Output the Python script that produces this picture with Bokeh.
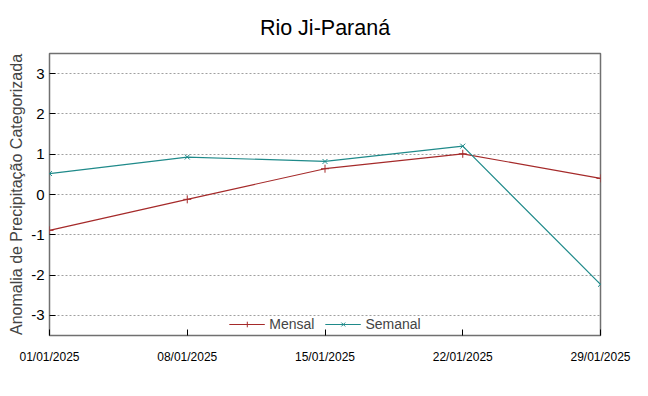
from datetime import datetime
from bokeh.plotting import figure
from bokeh.models import FixedTicker, DatetimeTickFormatter, Legend, LegendItem, Range1d
from bokeh.embed import file_html
from bokeh.resources import INLINE

dates = ["01/01/2025", "08/01/2025", "15/01/2025", "22/01/2025", "29/01/2025"]
mensal = [-0.89, -0.12, 0.64, 1.01, 0.40]
semanal = [0.52, 0.93, 0.82, 1.20, -2.23]
y_ticks = [-3, -2, -1, 0, 1, 2, 3]
y_tick_labels = ["-3", "-2", "-1", "0", "1", "2", "3"]

x = [datetime.strptime(d, "%d/%m/%Y") for d in dates]

red = "#a52a2a"
teal = "#1f8a8a"
font = "Liberation Sans"

p = figure(frame_width=551, frame_height=282, output_backend="svg", toolbar_location=None,
           x_axis_type="datetime", title="Rio Ji-Paraná",
           min_border_left=49, min_border_right=40, min_border_top=53, min_border_bottom=0)
p.x_range = Range1d(x[0], x[-1])
p.y_range = Range1d(-3.5, 3.5)

p.title.align = "center"
p.title.text_font = font
p.title.text_font_size = "21.5px"
p.title.text_font_style = "normal"
p.title.text_color = "#000000"
p.title.vertical_align = "top"
p.title.standoff = 24

l1 = p.line(x, mensal, line_color=red, line_width=1.2)
m1 = p.scatter(x, mensal, marker="cross", size=8, line_color=red, line_width=1)
l2 = p.line(x, semanal, line_color=teal, line_width=1.2)
m2 = p.scatter(x, semanal, marker="x", size=7, line_color=teal, line_width=1)

ms = [d.timestamp() * 1000 for d in x]
p.xaxis.ticker = FixedTicker(ticks=ms)
p.xaxis.formatter = DatetimeTickFormatter(days="%d/%m/%Y", months="%d/%m/%Y", hours="%d/%m/%Y")
p.yaxis.ticker = FixedTicker(ticks=y_ticks)
p.yaxis.major_label_overrides = {t: s for t, s in zip(y_ticks, y_tick_labels)}

for ax in (p.xaxis[0], p.yaxis[0]):
    ax.major_tick_in = 6
    ax.major_tick_out = 0
    ax.minor_tick_in = 0
    ax.minor_tick_out = 0
    ax.axis_line_color = None
    ax.major_tick_line_color = "#000000"
    ax.major_label_text_font = font
    ax.major_label_text_color = "#000000"

p.xaxis.major_label_text_font_size = "12px"
p.xaxis.major_label_standoff = 14
p.xaxis.axis_label = None
p.yaxis.major_label_text_font_size = "15px"
p.yaxis.major_label_standoff = 5
p.yaxis.axis_label = "Anomalia de Precipitação Categorizada"
p.yaxis.axis_label_text_font = font
p.yaxis.axis_label_text_font_size = "16px"
p.yaxis.axis_label_text_font_style = "normal"
p.yaxis.axis_label_standoff = 3

p.xgrid.grid_line_color = None
p.ygrid.grid_line_color = "#a0a0a0"
p.ygrid.grid_line_dash = "2 2"
p.ygrid.grid_line_width = 1

p.outline_line_color = "#707070"
p.outline_line_width = 1.5
p.background_fill_color = "white"
p.border_fill_color = "white"

legend = Legend(items=[LegendItem(label="Mensal", renderers=[l1, m1]),
                       LegendItem(label="Semanal", renderers=[l2, m2])],
                orientation="horizontal", location="bottom_center",
                label_text_font=font, label_text_font_size="14px",
                glyph_width=36, glyph_height=14, label_height=14,
                border_line_color=None, background_fill_alpha=0,
                padding=0, margin=3, spacing=10, label_standoff=5)
p.add_layout(legend)

open("out.html", "w").write(file_html(p, INLINE))
